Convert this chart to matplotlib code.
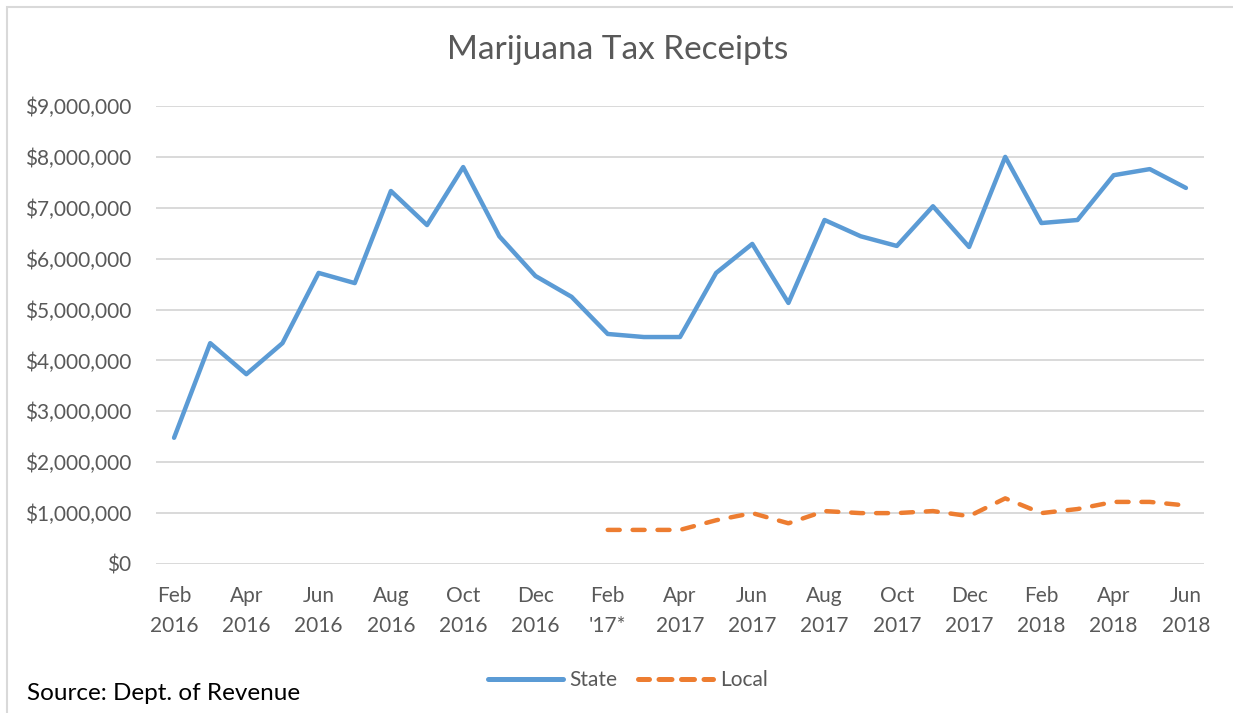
import matplotlib
matplotlib.use("Agg")
import matplotlib.pyplot as plt
from matplotlib.patches import Rectangle
from matplotlib.lines import Line2D
from matplotlib.ticker import FuncFormatter
import numpy as np

months = ["Feb 2016", "Mar 2016", "Apr 2016", "May 2016", "Jun 2016", "Jul 2016",
          "Aug 2016", "Sep 2016", "Oct 2016", "Nov 2016", "Dec 2016", "Jan 2017",
          "Feb 2017", "Mar 2017", "Apr 2017", "May 2017", "Jun 2017", "Jul 2017",
          "Aug 2017", "Sep 2017", "Oct 2017", "Nov 2017", "Dec 2017", "Jan 2018",
          "Feb 2018", "Mar 2018", "Apr 2018", "May 2018", "Jun 2018"]

state = [2480000, 4340000, 3730000, 4340000, 5720000, 5520000,
         7330000, 6660000, 7800000, 6440000, 5660000, 5250000,
         4520000, 4460000, 4460000, 5720000, 6290000, 5130000,
         6760000, 6440000, 6250000, 7030000, 6230000, 8000000,
         6700000, 6760000, 7640000, 7760000, 7390000]

local = [None] * 12 + [670000, 670000, 670000, 860000, 1000000, 800000,
                       1040000, 1000000, 1000000, 1040000, 940000, 1290000,
                       1000000, 1080000, 1220000, 1220000, 1150000]

tick_labels = ["Feb\n2016", "Apr\n2016", "Jun\n2016", "Aug\n2016", "Oct\n2016",
               "Dec\n2016", "Feb\n'17*", "Apr\n2017", "Jun\n2017", "Aug\n2017",
               "Oct\n2017", "Dec\n2017", "Feb\n2018", "Apr\n2018", "Jun\n2018"]

plt.rcParams['font.family'] = ['Lato', 'DejaVu Sans']
txt = "#595959"
c_state, c_local = "#5B9BD5", "#ED7D31"

W, H = 1233, 713
fig = plt.figure(figsize=(W / 100, H / 100), dpi=100)
fig.patch.set_facecolor("white")

# chart border
fig.patches.append(Rectangle((7 / W, -0.05), 1.1, 1 - 7 / H + 0.05, transform=fig.transFigure,
                             fill=False, edgecolor="#D9D9D9", linewidth=1.5))

ax = fig.add_axes([156 / W, 149 / H, (1204 - 156) / W, (564 - 106) / H])
x = np.arange(len(months))
local_arr = np.array([np.nan if v is None else v for v in local], dtype=float)

ax.plot(x, state, color=c_state, linewidth=3.2, solid_capstyle="round",
        solid_joinstyle="round", label="State", zorder=3)
ax.plot(x, local_arr, color=c_local, linewidth=3.2, linestyle=(0, (2.7, 2.9)),
        dash_capstyle="round", label="Local", zorder=3)

ax.set_xlim(-0.5, len(months) - 0.5)
ax.set_ylim(0, 9000000)
ax.set_yticks(np.arange(0, 9000001, 1000000))
ax.yaxis.set_major_formatter(FuncFormatter(lambda v, p: "${:,.0f}".format(v)))
ax.set_xticks(x[::2])
ax.set_xticklabels(tick_labels, linespacing=1.6)
ax.grid(axis="y", color="#D9D9D9", linewidth=1.4)
ax.set_axisbelow(True)
for s in ax.spines.values():
    s.set_visible(False)
ax.tick_params(axis="both", length=0, labelsize=15, labelcolor=txt)
ax.tick_params(axis="y", pad=18)
ax.tick_params(axis="x", pad=16)

fig.text(618 / W, 1 - 50 / H, "Marijuana Tax Receipts", ha="center", va="center",
         fontsize=24, color=txt)

handles = [Line2D([], [], color=c_state, linewidth=3.6, solid_capstyle="round"),
           Line2D([], [], color=c_local, linewidth=3.6, linestyle=(0.4, (2.6, 1.9)),
                  dash_capstyle="round")]
leg = fig.legend(handles, ["State", "Local"], loc="center",
                 bbox_to_anchor=(628 / W, 1 - 680 / H), ncol=2, frameon=False,
                 fontsize=15, handlelength=3.6, columnspacing=1.0, handletextpad=0.3)
for t in leg.get_texts():
    t.set_color(txt)

fig.text(27 / W, 1 - 694 / H, "Source: Dept. of Revenue", ha="left", va="center",
         fontsize=17.5, color="black")

fig.savefig("out.png", dpi=100, facecolor="white")
